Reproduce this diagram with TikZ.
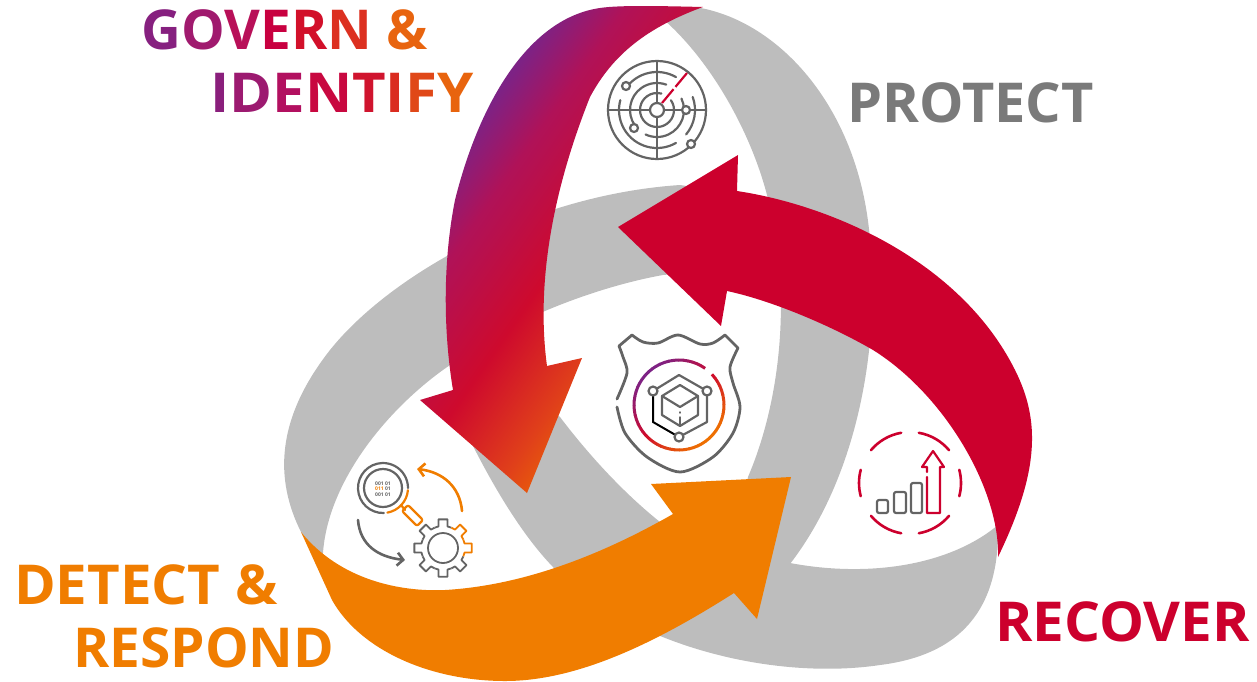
\documentclass[tikz,border=0pt]{standalone}
\usepackage{fontspec}
\usepackage{xcolor}
\usetikzlibrary{arrows.meta,positioning,calc}
\setmainfont{Open Sans}
\definecolor{bandgray}{HTML}{BDBDBD}
\definecolor{icongray}{HTML}{646464}
\definecolor{protectgray}{HTML}{7A7A7A}
\definecolor{recoverred}{HTML}{CC002D}
\definecolor{detectorange}{HTML}{F07D00}
\definecolor{gradpurple}{HTML}{7D2285}
\definecolor{gradmagenta}{HTML}{B01258}
\definecolor{gradcrimson}{HTML}{CE0A2D}
\definecolor{gradscarlet}{HTML}{E0401A}
\definecolor{gradorange}{HTML}{EE7000}
\pgfdeclarehorizontalshading{governshade}{700bp}{color(0bp)=(gradpurple); color(16bp)=(gradpurple); color(71bp)=(gradmagenta); color(161bp)=(gradcrimson); color(241bp)=(gradscarlet); color(300bp)=(gradorange)}

\begin{document}
\begin{tikzpicture}[x=1pt,y=-1pt]
    % Define styles
    \tikzstyle{band} = [fill=bandgray]
    \tikzstyle{stagetext} = [anchor=base west, inner sep=0pt, font=\fontsize{55}{60}\selectfont\bfseries]
    \tikzstyle{iconline} = [draw=icongray, line width=2.2pt, line cap=round, line join=round]
    \tikzstyle{redline} = [draw=recoverred, line width=2.2pt, line cap=round, line join=round]
    \tikzstyle{orangeline} = [draw=detectorange, line width=2.2pt, line cap=round, line join=round]
    \tikzstyle{arrow} = [line width=2.6pt, line cap=round, -{Straight Barb[length=6pt,width=13pt]}]

    \useasboundingbox (0,0) rectangle (1257,681);

    % Gray bands
    \fill[band] (301,532) .. controls (275,480) and (275,420) .. (330,350) .. controls (390,275) and (530,195) .. (680,185) -- (700,188)
        -- (720,270) -- (663,275) .. controls (590,288) and (500,325) .. (453,363) .. controls (390,405) and (328,480) .. (323,553) -- (320,565) -- cycle;
    \fill[band] (695,7) .. controls (780,20) and (860,110) .. (870,240) .. controls (880,340) and (860,470) .. (793,560)
        -- (770,590) -- (740,520) -- (748,477) .. controls (785,390) and (790,280) .. (767,195) .. controls (750,130) and (710,60) .. (663,19) -- cycle;
    \fill[band] (470,440) .. controls (500,500) and (530,545) .. (558,572) .. controls (640,650) and (780,680) .. (880,665) .. controls (960,655) and (1000,610) .. (998,525)
        .. controls (950,565) and (870,578) .. (790,563) -- (700,540) -- (660,522) .. controls (620,490) and (585,450) .. (560,417) -- (540,400) -- cycle;

    % Govern arrow
    \begin{scope}
        \clip (703,7) .. controls (660,6) and (620,5) .. (600,8) .. controls (530,18) and (480,100) .. (455,200) .. controls (443,260) and (443,330) .. (453,390)
            -- (420,400) -- (527,493) -- (582,358) -- (547,366)
            .. controls (538,300) and (545,210) .. (590,97) .. controls (610,60) and (640,30) .. (703,7) -- cycle;
        \node (governfill) [inner sep=0pt, rotate=-35] at (548,256) {\pgfuseshading{governshade}};
    \end{scope}

    % Recover arrow
    \fill[recoverred] (618,227) -- (738,155) -- (737,191)
        .. controls (830,205) and (960,260) .. (1015,370) .. controls (1040,420) and (1040,470) .. (998,557)
        .. controls (1000,490) and (945,395) .. (873,350) .. controls (830,325) and (770,300) .. (727,291)
        -- (721,326) -- cycle;

    % Detect arrow
    \fill[detectorange] (301,532) .. controls (340,580) and (400,592) .. (445,590) .. controls (530,585) and (610,550) .. (673,514)
        -- (651,484) -- (791,477) -- (757,619) -- (734,593)
        .. controls (660,640) and (580,681) .. (505,681) .. controls (430,681) and (360,650) .. (332,600) -- cycle;

    % Radar
    \draw[iconline] (657,110) circle (49);
    \draw[iconline] (657,110) circle (7);
    \draw[iconline] (608,110) -- (650,110) (664,110) -- (706,110) (657,61) -- (657,103) (657,117) -- (657,159);
    \draw[iconline] (657,110) ++(-35:17) arc (-35:285:17);
    \draw[iconline] (657,110) ++(-25:27) arc (-25:115:27) (657,110) ++(145:27) arc (145:290:27);
    \draw[iconline] (657,110) ++(-20:38) arc (-20:40:38) (657,110) ++(60:38) arc (60:195:38) (657,110) ++(215:38) arc (215:300:38);
    \foreach \cx/\cy/\cr in {626/86/4, 686/110/4, 634/128/4, 691/144/4} {
        \draw[iconline, fill=white] (\cx,\cy) circle (\cr);
    }
    \draw[redline, line cap=butt, dash pattern=on 18pt off 3pt] (662,103) -- (687,73);

    % Shield
    \draw[iconline, line width=2.8pt] plot[smooth] coordinates {(632,335) (643,342) (658,343) (678,335) (700,344) (713,343) (725,335)}
        -- (738,348) plot[smooth] coordinates {(738,348) (730,367) (733,383) (740,407) (733,433) (713,457) (680,472) (647,457) (625,433) (617,407)}
        plot[smooth] coordinates {(617,399) (627,373) (623,357) (619,346)} -- (632,335);
    \foreach \a in {-43,-37,...,302} {
        \pgfmathsetmacro\ringpos{(cos(\a)+sin(\a))/1.414}
        \pgfmathsetmacro\ringmix{abs(\ringpos)*100}
        \pgfmathsetmacro\ringend{\a+6.5}
        \ifdim\ringpos pt<0pt
            \colorlet{ringcolor}{gradpurple!\ringmix!gradcrimson}
        \else
            \colorlet{ringcolor}{gradorange!\ringmix!gradcrimson}
        \fi
        \draw[ringcolor, line width=3pt] (679,405) ++(\a:45) arc (\a:\ringend:45);
    }
    \draw[iconline] (679,375) -- (707,391) -- (707,422) -- (679,437);
    \draw[iconline] (653,391) -- (679,375);
    \draw[black, line width=2pt] (653,391) -- (653,422) -- (679,437);
    \draw[iconline] (680,385) -- (698,396) -- (698,415) -- (680,426) -- (662,415) -- (662,396) -- cycle;
    \draw[iconline] (662,396) -- (680,407) -- (698,396);
    \draw[iconline, line width=1.4pt] (680,412) -- (680,413) (680,417) -- (680,426);
    \foreach \cx/\cy in {707/391, 653/391, 679/437} {
        \draw[iconline, fill=white] (\cx,\cy) circle (4.5);
    }

    % Magnifier and gear
    \draw[iconline] (383,488) ++(88:25) arc (88:360:25);
    \draw[iconline] (383,488) circle (19);
    \draw[orangeline] (383,488) ++(80:25) arc (80:5:25);
    \draw[orangeline] (401,505) -- (405,510);
    \draw[orangeline, rounded corners=2pt] (402,511) -- (408,505) -- (423,520) -- (417,526) -- cycle;
    \node (bits) [inner sep=0pt, align=center, font=\fontsize{5}{5.5}\selectfont\bfseries, text=icongray] at (383,489) {001 01\\\textcolor{detectorange}{011} 01\\001 01};
    \draw[arrow, detectorange] (462,511) .. controls (460,487) and (443,472) .. (417,469);
    \draw[arrow, icongray] (358,520) .. controls (360,545) and (378,557) .. (405,560);
    \draw[iconline, line width=1.8pt] (443,548) circle (15);
    \foreach \a/\toothcolor in {-90/icongray, -45/detectorange, 0/detectorange, 45/icongray, 90/icongray, 135/icongray, 180/icongray, 225/icongray} {
        \draw[\toothcolor, line width=1.8pt, line join=round] (443,548) ++(\a-22.5:22) arc (\a-22.5:\a-12:22)
            -- ($(443,548)+(\a-9:29)$) -- ($(443,548)+(\a+9:29)$) -- ($(443,548)+(\a+12:22)$) arc (\a+12:\a+22.5:22);
    }

    % Growth chart
    \foreach \a/\halfarc in {0/15, 60/20, 120/20, 180/15, 240/20, 300/20} {
        \draw[redline, line width=2.6pt] (910,483) ++(\a-\halfarc:51) arc (\a-\halfarc:\a+\halfarc:51);
    }
    \draw[iconline, rounded corners=2pt] (877,500) rectangle (888,513);
    \draw[iconline, rounded corners=2pt] (894,492) rectangle (906,513);
    \draw[iconline, rounded corners=2pt] (911,483) rectangle (922,513);
    \draw[redline] (927,477) -- (927,513) -- (940,513) -- (940,467) -- (944,467) -- (933,451) -- (922,467) -- (927,467) -- (927,472);

    % Labels
    \node (govern) [stagetext] at (141,49) {\textcolor[HTML]{86207F}{G}\textcolor[HTML]{A01A6E}{O}\textcolor[HTML]{B81058}{V}\textcolor[HTML]{C80040}{E}\textcolor[HTML]{D2102A}{R}\textcolor[HTML]{DC3020}{N} \textcolor[HTML]{E8640F}{\&}};
    \node (identify) [stagetext] at (210,112) {\scalebox{1.057}[1]{\textcolor[HTML]{8A1F7C}{I}\textcolor[HTML]{9C1A70}{D}\textcolor[HTML]{B21060}{E}\textcolor[HTML]{C80840}{N}\textcolor[HTML]{D0142E}{T}\textcolor[HTML]{DA2C20}{I}\textcolor[HTML]{E04818}{F}\textcolor[HTML]{E8640E}{Y}}};
    \node (protect) [stagetext, text=protectgray] at (847,122) {\scalebox{1.017}[1]{PROTECT}};
    \node (detect) [stagetext, text=detectorange] at (14,604) {\scalebox{1.027}[1]{DETECT \&}};
    \node (respond) [stagetext, text=detectorange] at (73,667) {RESPOND};
    \node (recover) [stagetext, text=recoverred] at (995,641) {\scalebox{1.03}[1]{RECOVER}};
\end{tikzpicture}
\end{document}
